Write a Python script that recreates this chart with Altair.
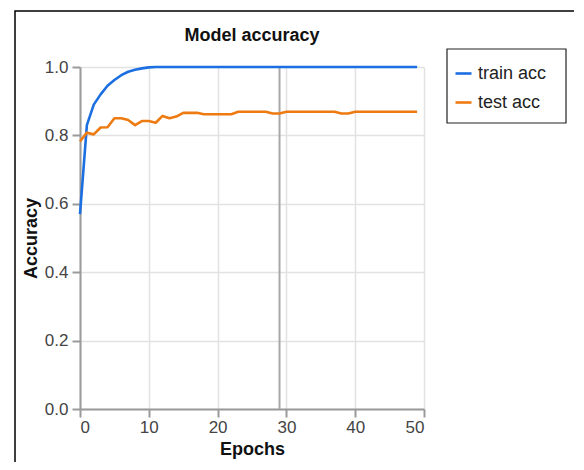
import altair as alt
import pandas as pd

epochs = list(range(50))
train_acc = [0.570, 0.830, 0.890, 0.920, 0.945, 0.962, 0.976, 0.986, 0.992, 0.996,
             0.999, 1.000, 1.000, 1.000, 1.000, 1.000, 1.000, 1.000, 1.000, 1.000,
             1.000, 1.000, 1.000, 1.000, 1.000, 1.000, 1.000, 1.000, 1.000, 1.000,
             1.000, 1.000, 1.000, 1.000, 1.000, 1.000, 1.000, 1.000, 1.000, 1.000,
             1.000, 1.000, 1.000, 1.000, 1.000, 1.000, 1.000, 1.000, 1.000, 1.000]
test_acc = [0.782, 0.808, 0.803, 0.823, 0.824, 0.850, 0.850, 0.845, 0.830, 0.842,
            0.842, 0.837, 0.857, 0.850, 0.855, 0.866, 0.866, 0.866, 0.862, 0.862,
            0.862, 0.862, 0.862, 0.869, 0.869, 0.869, 0.869, 0.869, 0.864, 0.864,
            0.869, 0.869, 0.869, 0.869, 0.869, 0.869, 0.869, 0.869, 0.864, 0.864,
            0.869, 0.869, 0.869, 0.869, 0.869, 0.869, 0.869, 0.869, 0.869, 0.869]
series_names = ["train acc", "test acc"]
series_colors = ["#1c6fe0", "#ee7b12"]
marker_epoch = [29]
x_ticks = [0, 10, 20, 30, 40, 50]
y_ticks = [0.0, 0.2, 0.4, 0.6, 0.8, 1.0]
chart_title = ["Model accuracy"]

FONT = "Liberation Sans"

df = pd.DataFrame({
    "Epochs": epochs * 2,
    "Accuracy": train_acc + test_acc,
    "series": [series_names[0]] * len(epochs) + [series_names[1]] * len(epochs),
})
one = pd.DataFrame({"k": [0]})
title_df = pd.DataFrame({"t": chart_title})
rule_df = pd.DataFrame({"Epochs": marker_epoch})

x_axis = alt.Axis(values=x_ticks, labelFontSize=17, labelColor="#444", labelFont=FONT,
                  titleFontSize=18, titleFont=FONT, titleFontWeight="bold", titleColor="#111",
                  domainColor="#9a9a9a", domainWidth=2, tickColor="#9a9a9a", tickWidth=2,
                  tickSize=8, gridColor="#e2e2e2", gridWidth=1.5, labelPadding=2, titlePadding=5)
y_axis = alt.Axis(values=y_ticks, format=".1f", labelFontSize=17, labelColor="#444", labelFont=FONT,
                  titleFontSize=18, titleFont=FONT, titleFontWeight="bold", titleColor="#111",
                  domainColor="#9a9a9a", domainWidth=2, tickColor="#9a9a9a", tickWidth=2,
                  tickSize=8, gridColor="#e2e2e2", gridWidth=1.5, labelPadding=4, titlePadding=4)

frame = alt.Chart(one).mark_rect(fill="transparent", stroke="black", strokeWidth=1.5).encode(
    x=alt.value(-65), x2=alt.value(700), y=alt.value(-56), y2=alt.value(700))

legend_box = alt.Chart(one).mark_rect(fill="white", stroke="#222", strokeWidth=1.2).encode(
    x=alt.value(367), x2=alt.value(486), y=alt.value(-18), y2=alt.value(56))

title_text = alt.Chart(title_df).mark_text(
    font=FONT, fontSize=18, fontWeight="bold", color="#111",
    align="center", baseline="middle").encode(
    text="t:N", x=alt.value(172), y=alt.value(-31))

lines = alt.Chart(df).mark_line(strokeWidth=2.6, strokeJoin="round").encode(
    x=alt.X("Epochs:Q", scale=alt.Scale(domain=[0, 50], nice=False), axis=x_axis),
    y=alt.Y("Accuracy:Q", scale=alt.Scale(domain=[0, 1], nice=False), axis=y_axis),
    color=alt.Color("series:N",
                    scale=alt.Scale(domain=series_names, range=series_colors),
                    sort=series_names,
                    legend=alt.Legend(orient="none", legendX=374, legendY=-3, title=None,
                                      symbolType="stroke", symbolStrokeWidth=2.6, symbolSize=256,
                                      labelFontSize=18, labelFont=FONT, labelColor="#222",
                                      rowPadding=10, labelOffset=5, padding=0,
                                      direction="vertical")),
)

rule = alt.Chart(rule_df).mark_rule(color="#a8a8a8", strokeWidth=2).encode(
    x=alt.X("Epochs:Q"))

chart = alt.layer(frame, legend_box, title_text, rule, lines).properties(
    width=344, height=342,
    padding={"left": 72, "top": 59, "right": 150, "bottom": 53},
    autosize="none",
).configure_view(stroke="transparent")

chart.save("out.html", embed_options={"renderer": "svg", "actions": False})
